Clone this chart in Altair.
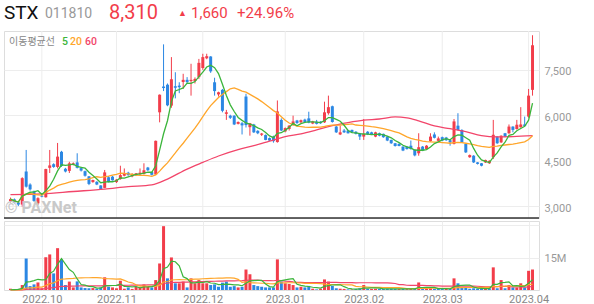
import json
import altair as alt
import pandas as pd

# ---------------- data ----------------
opens = [3170, 3230, 3130, 3060, 4150, 3720, 3500, 3100, 3350, 3300,
         4270, 4390, 4300, 4800, 4240, 4170, 4390, 4450, 4260, 4160,
         3990, 3800, 3810, 3690, 3610, 3960, 3980, 3800, 3900, 4010,
         4110, 3990, 4030, 4060, 4070, 4280, 4130, 4050, 6100, 6950,
         7010, 6320, 6960, 6980, 7100, 7170, 7130, 7130, 7260, 7560,
         7880, 7940, 7090, 6690, 6840, 6050, 5990, 5990, 5720, 5740,
         6620, 5610, 5700, 5490, 5360, 5350, 5250, 5300, 5120, 5850,
         5470, 5550, 5680, 5830, 5770, 5860, 5900, 5730, 5790, 5790,
         5770, 6070, 6300, 5630, 5370, 5500, 5500, 5520, 5460, 5410,
         5300, 5460, 5440, 5300, 5410, 5390, 5300, 5190, 5080, 5060,
         4970, 4970, 5000, 4860, 4750, 4970, 4890, 5150, 5370, 5160,
         5280, 5270, 5180, 5060, 5660, 5520, 5060, 4620, 4670, 4450,
         4420, 4450, 4420, 4620, 5300, 5110, 5410, 5410, 5630, 5550,
         5610, 5700, 5960, 6840]
highs = [3290, 3260, 3150, 3960, 4860, 3760, 3520, 3300, 3380, 4240,
         4860, 4420, 5090, 4830, 4270, 4470, 4450, 4750, 4280, 4180,
         4000, 3880, 3830, 3700, 4200, 4000, 4000, 3900, 4340, 4250,
         4140, 4090, 4100, 4250, 4420, 4300, 4140, 5170, 6690, 8340,
         7050, 7920, 7420, 7090, 7370, 7260, 7700, 7250, 7860, 8030,
         8030, 7950, 7240, 6780, 6870, 6180, 6020, 6000, 5800, 5780,
         6710, 5750, 5720, 5510, 5420, 5370, 5270, 5330, 6490, 5900,
         5600, 5680, 5990, 5850, 5860, 5890, 6120, 5820, 5850, 5810,
         6450, 6650, 6320, 5650, 5660, 5550, 5520, 5530, 5480, 5420,
         5880, 5480, 5460, 5460, 5430, 5400, 5310, 5200, 5090, 5070,
         4980, 4990, 5170, 4870, 5410, 4990, 5020, 5410, 5440, 5300,
         5300, 5290, 5190, 5880, 6070, 5540, 5070, 4710, 4690, 4460,
         4430, 4540, 4520, 5850, 5310, 5340, 5420, 5700, 5640, 5850,
         6270, 5960, 6870, 8640]
lows = [3130, 3100, 3010, 2990, 3620, 3520, 3150, 3050, 3300, 3290,
        4100, 4270, 4250, 4300, 4120, 4100, 4350, 4250, 4150, 3980,
        3700, 3780, 3700, 3540, 3600, 3790, 3850, 3770, 3880, 3990,
        4010, 3960, 4000, 4040, 4050, 4170, 4020, 4040, 5770, 6800,
        6300, 6250, 6560, 6730, 6870, 7030, 6650, 7050, 7200, 7500,
        7850, 7400, 6650, 6620, 6100, 5850, 5880, 5680, 5700, 5370,
        5600, 5330, 5420, 5380, 5320, 5180, 5150, 5100, 5100, 5480,
        5440, 5500, 5660, 5720, 5750, 5760, 5740, 5710, 5700, 5720,
        5750, 6020, 5760, 5420, 5350, 5420, 5400, 5420, 5370, 5190,
        5190, 5350, 5350, 5280, 5310, 5260, 5150, 5060, 4970, 4980,
        4820, 4870, 4870, 4650, 4670, 4820, 4870, 5130, 5240, 5150,
        5150, 5160, 5000, 5040, 5500, 5090, 4760, 4600, 4430, 4380,
        4320, 4430, 4400, 4560, 5060, 5090, 5280, 5390, 5440, 5530,
        5590, 5630, 5920, 6650]
closes = [3240, 3130, 3060, 3930, 3650, 3560, 3180, 3270, 3320, 4230,
          4350, 4300, 4640, 4330, 4150, 4420, 4420, 4270, 4180, 4010,
          3740, 3870, 3720, 3560, 4120, 3800, 3860, 3880, 4030, 4080,
          4030, 4060, 4090, 4110, 4190, 4190, 4040, 5160, 6680, 6900,
          6330, 7190, 6910, 6930, 7170, 7100, 7170, 7200, 7730, 7920,
          7950, 7450, 6800, 6760, 6150, 6100, 5920, 5700, 5780, 5670,
          5680, 5740, 5440, 5410, 5400, 5190, 5170, 5150, 6130, 5500,
          5580, 5660, 5800, 5750, 5840, 5780, 5760, 5800, 5720, 5740,
          6100, 6270, 5780, 5440, 5440, 5440, 5410, 5440, 5390, 5300,
          5390, 5370, 5370, 5440, 5330, 5280, 5170, 5080, 4990, 4990,
          4840, 4890, 4890, 4680, 4950, 4840, 5000, 5300, 5260, 5240,
          5170, 5180, 5110, 5800, 5520, 5110, 4780, 4690, 4450, 4400,
          4340, 4530, 4500, 5360, 5080, 5330, 5300, 5630, 5520, 5690,
          5700, 5650, 6650, 8310]
volumes_m = [0.6, 0.4, 0.5, 2.3, 14.6, 1.8, 2.6, 3.5, 0.8, 15.2,
             16.5, 7.7, 19.4, 14.2, 2.3, 3.9, 1.2, 4.0, 1.2, 0.9,
             0.8, 0.9, 0.6, 1.2, 5.9, 1.5, 1.2, 0.8, 4.3, 0.6,
             1.2, 0.5, 1.5, 1.2, 2.6, 1.5, 1.2, 4.6, 12.3, 29.6,
             5.4, 15.1, 3.1, 3.1, 3.9, 1.2, 5.4, 3.1, 4.6, 3.1,
             3.1, 2.3, 2.6, 1.5, 3.4, 3.9, 1.5, 1.8, 1.2, 1.5,
             9.5, 7.3, 2.3, 1.8, 1.5, 1.2, 1.2, 1.2, 14.2, 3.9,
             3.1, 2.8, 2.3, 1.2, 1.5, 1.2, 1.9, 0.6, 0.3, 0.6,
             4.9, 3.9, 1.9, 0.8, 0.6, 0.5, 0.3, 0.3, 0.5, 0.8,
             2.3, 0.6, 0.5, 0.6, 0.5, 0.5, 0.6, 0.6, 0.5, 0.5,
             0.6, 0.4, 0.5, 0.8, 3.5, 0.6, 0.6, 0.8, 0.6, 0.5,
             0.6, 0.6, 0.5, 5.4, 3.1, 1.2, 1.2, 0.6, 0.8, 0.6,
             0.6, 0.5, 0.8, 10.5, 0.8, 4.6, 0.8, 2.3, 1.2, 1.2,
             3.1, 1.2, 8.9, 9.5]
ma60_idx = [0, 8, 16, 24, 30, 36, 40, 45, 49, 53, 58, 62, 66, 70, 74,
            78, 82, 86, 90, 94, 98, 101, 104, 108, 112, 116, 120, 124, 128, 133]
ma60_val = [3385, 3410, 3490, 3570, 3650, 3710, 3900, 4230, 4450, 4660, 4870, 5000, 5150, 5300, 5390,
            5520, 5660, 5760, 5840, 5880, 5950, 5920, 5820, 5650, 5560, 5460, 5330, 5290, 5300, 5330]
month_idx = [8, 27, 49, 70, 90, 110, 132]
month_lbl = ["2022.10", "2022.11", "2022.12", "2023.01", "2023.02", "2023.03", "2023.04"]
price_ticks = [3000, 4500, 6000, 7500]
vol_ticks = [15000000, 30000000]
header_texts = ["STX", "011810", "8,310", "\u25b2", "1,660", "+24.96%"]
legend_texts = ["이동평균선", "5", "20", "60"]
watermark = "\u00a9 PAXNet"

# ---------------- styling ----------------
RED = "#f23d4a"
BLUE = "#2b87e3"
C5 = "#3bb53b"
C20 = "#ffa62b"
C60 = "#f2456a"
GRID = "#ededed"
W, PH, VH = 535, 187, 69
FONT = "Roboto"

n = len(closes)
df = pd.DataFrame({
    "i": list(range(n)), "open": opens, "high": highs, "low": lows,
    "close": closes, "vol": [v * 1e6 for v in volumes_m],
})
# candle colour: close vs open; volume colour: close vs previous close
df["dir"] = ["up" if c >= o else "down" for o, c in zip(opens, closes)]
df["vdir"] = [df["dir"][0]] + ["up" if closes[k] >= closes[k - 1] else "down" for k in range(1, n)]
mdf = pd.DataFrame({"i": month_idx})
m60 = pd.DataFrame({"i": ma60_idx, "ma": ma60_val})
one = pd.DataFrame({"k": [0]})

xscale = alt.Scale(domain=[-0.375, 133.375], nice=False, zero=False)
pscale = alt.Scale(domain=[2617, 8780], nice=False, zero=False)
vscale = alt.Scale(domain=[0, 32000000], nice=False)
cscale = alt.Scale(domain=["up", "down"], range=[RED, BLUE])

yaxis = alt.Axis(orient="right", values=price_ticks, labelExpr="format(datum.value, ',')",
                 grid=True, gridColor=GRID,
                 domain=False, ticks=False, tickSize=0, labelColor="#999999", labelFontSize=11,
                 labelFont=FONT, labelPadding=5, labelOffset=2, title=None)
X = alt.X("i:Q", scale=xscale, axis=None)
COL = alt.Color("dir:N", scale=cscale, legend=None)


def py(field):
    return alt.Y(f"{field}:Q", scale=pscale, axis=yaxis)


vgrid = alt.Chart(mdf).mark_rule(color=GRID, strokeWidth=1).encode(
    x=X, y=alt.value(0), y2=alt.value(PH))
wick = alt.Chart(df).mark_rule(strokeWidth=1).encode(x=X, y=py("low"), y2="high:Q", color=COL)
body = alt.Chart(df).mark_bar(size=3).encode(x=X, y=py("open"), y2="close:Q", color=COL)
ma5 = alt.Chart(df).transform_window(ma="mean(close)", frame=[-4, 0], sort=[alt.SortField("i")]).mark_line(
    color=C5, strokeWidth=1.3).encode(x=X, y=py("ma"))
ma20 = alt.Chart(df).transform_window(ma="mean(close)", frame=[-19, 0], sort=[alt.SortField("i")]).mark_line(
    color=C20, strokeWidth=1.3).encode(x=X, y=py("ma"))
ma60 = alt.Chart(m60).mark_line(color=C60, strokeWidth=1.3, interpolate="monotone").encode(x=X, y=py("ma"))

leg_pos = [5, 58, 66, 81]
leg_col = ["#888888", C5, C20, C60]
leg_layers = []
for t, xp, c in zip(legend_texts, leg_pos, leg_col):
    leg_layers.append(alt.Chart(one).mark_text(
        align="left", baseline="middle", fontSize=10 if t == legend_texts[0] else 10.5,
        font="Noto Sans CJK KR" if t == legend_texts[0] else FONT,
        fontWeight="normal" if t == legend_texts[0] else 500, color=c).encode(
        x=alt.value(xp), y=alt.value(10.5), text=alt.value(t)))
wm = alt.Chart(one).mark_text(align="left", baseline="alphabetic", fontSize=16, fontWeight="bold",
                              font=FONT, color="#c9c9c9").encode(
    x=alt.value(1), y=alt.value(182), text=alt.value(watermark))
sep = alt.Chart(one).mark_rule(color="#333333", strokeWidth=1.5).encode(
    x=alt.value(0), x2=alt.value(W), y=alt.value(PH))

price = alt.layer(vgrid, wick, body, ma60, ma20, ma5, wm, *leg_layers, sep).properties(width=W, height=PH)

# volume panel
xaxis = alt.Axis(values=month_idx, grid=True, gridColor=GRID, domain=False, ticks=False, tickSize=0,
                 labelColor="#888888", labelFontSize=11, labelFont=FONT, labelPadding=3, labelFlush=False,
                 title=None,
                 labelExpr=f"{json.dumps(month_lbl)}[indexof({json.dumps(month_idx)}, datum.value)]")
vaxis = alt.Axis(orient="right", values=vol_ticks, grid=True, gridColor=GRID, domain=False, ticks=False,
                 tickSize=0, labelColor="#999999", labelFontSize=11, labelFont=FONT, labelPadding=5,
                 labelOffset=1, title=None, labelExpr="datum.value == 15000000 ? '15M' : ''")
VX = alt.X("i:Q", scale=xscale, axis=xaxis)
vbar = alt.Chart(df).mark_bar(size=3).encode(
    x=VX, y=alt.Y("vol:Q", scale=vscale, axis=vaxis),
    color=alt.Color("vdir:N", scale=cscale, legend=None))


def vma(nwin, color):
    return alt.Chart(df).transform_window(s="sum(vol)", frame=[-(nwin - 1), 0], sort=[alt.SortField("i")]).transform_calculate(
        ma=f"datum.s / {nwin}").mark_line(color=color, strokeWidth=1.2).encode(
        x=VX, y=alt.Y("ma:Q", scale=vscale, axis=vaxis))


volume = alt.layer(vbar, vma(60, C60), vma(20, C20), vma(5, C5)).properties(width=W, height=VH)

# header
hdr_x = [0, 41, 105, 174, 187, 233]
hdr_size = [19, 14, 20, 9, 15, 15]
hdr_base = [18.5, 18, 18.5, 15.5, 18, 18]
hdr_col = ["#111111", "#999999", RED, RED, RED, RED]
hdr_layers = []
for t, xp, s, b, c in zip(header_texts, hdr_x, hdr_size, hdr_base, hdr_col):
    hdr_layers.append(alt.Chart(one).mark_text(
        align="left", baseline="alphabetic", fontSize=s, font=FONT, color=c).encode(
        x=alt.value(xp), y=alt.value(b), text=alt.value(t)))
header = alt.layer(*hdr_layers).properties(width=W, height=30, view=alt.ViewBackground(stroke=None))

chart = alt.vconcat(header, price, volume, spacing=0).properties(
    padding={"left": 2, "top": 0, "right": 0, "bottom": 0}
).configure_view(stroke="#d4d4d4", strokeWidth=1).configure(background="white")

chart.save("out.html", embed_options={"renderer": "svg", "actions": False})
